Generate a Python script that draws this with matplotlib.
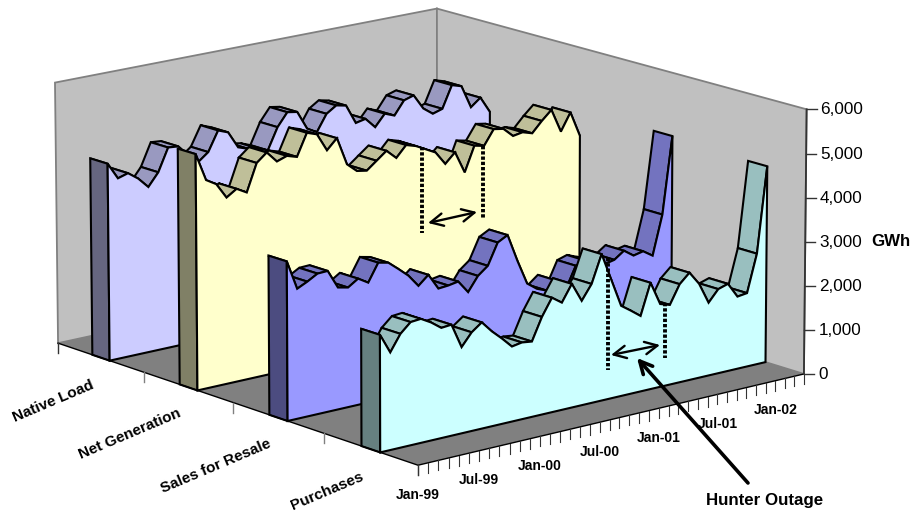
#!/usr/bin/env python3
import numpy as np
import matplotlib
matplotlib.use("Agg")
import matplotlib.pyplot as plt

plt.rcParams["font.family"] = ["Liberation Sans", "DejaVu Sans"]

SERIES = ["Native Load", "Net Generation", "Sales for Resale", "Purchases"]
native_load = [4510, 4130, 4200, 4030, 3790, 4080, 4600, 4580, 4330, 4130, 4310, 4760, 4670, 4280, 4200, 4160, 4070, 4560, 4860, 4820, 4390, 4260, 4640, 4790, 4740, 4290, 4340, 4100, 4370, 4280, 4590, 4660, 4310, 4140, 4210, 4720, 4650, 4110, 4290, 3910]
net_generation = [5340, 4710, 4570, 4220, 4370, 4240, 4860, 5050, 4800, 4880, 4810, 5310, 5230, 4820, 5050, 4410, 4210, 4170, 4350, 4530, 4320, 4570, 4500, 4380, 4260, 3950, 4170, 3660, 4230, 4180, 4520, 4480, 4270, 4310, 4240, 4480, 4690, 4140, 4540, 3950]
sales_for_resale = [3570, 2910, 3020, 3150, 3160, 2740, 2690, 2840, 2700, 3100, 3050, 2860, 2660, 2380, 2580, 2220, 2240, 2280, 1990, 2310, 2490, 2970, 3090, 2460, 1890, 1720, 1630, 1810, 1570, 2050, 2120, 2030, 1940, 1990, 2150, 1990, 2040, 1890, 2790, 4550]
purchases = [2600, 2160, 2520, 2730, 2750, 2620, 2450, 2470, 1920, 2200, 2370, 2120, 1910, 1680, 1720, 1690, 2190, 2570, 2410, 2780, 2350, 2680, 3300, 2670, 2040, 1880, 1710, 2410, 1880, 1810, 2230, 2440, 2140, 1660, 1920, 1990, 1650, 1680, 2530, 4470]
VALUE_TICKS = [0, 1000, 2000, 3000, 4000, 5000, 6000]
DATE_LABELS = ["Jan-99", "Jul-99", "Jan-00", "Jul-00", "Jan-01", "Jul-01", "Jan-02"]

N = len(purchases) - 1
VMAX = 6000
LW = 1.5

# face, top and side shade of each slab
COLORS = [("#CCCCFF", "#9999C0", "#666680"),
          ("#FFFFCC", "#BFBF99", "#808066"),
          ("#9999FF", "#7373BF", "#4C4C80"),
          ("#CCFFFF", "#99BFBF", "#668080")]

# series names are placed by hand, excel spaced them unevenly
NAME_POS = [(53, 401), (130, 434), (216, 466), (327, 491)]

# view: picture position of the cube corners (t, s, v), fitted to one projection
corners = [((0, 0, 0), (418, 466)), ((1, 0, 0), (804, 373)), ((0, 1, 0), (58, 342)),
           ((1, 1, 0), (437, 262)), ((1, 0, 1), (806.5, 109.5)), ((0, 1, 1), (55, 83)),
           ((1, 1, 1), (437, 8))]
rows = []
for (t, s, v), (x, y) in corners:
    p = [t, s, v, 1]
    rows.append(p + [0, 0, 0, 0] + [-x * c for c in p])
    rows.append([0, 0, 0, 0] + p + [-y * c for c in p])
M = np.linalg.svd(np.array(rows, float))[2][-1].reshape(3, 4)


def proj(t, s, v):
    h = M @ np.array([t, s, v / VMAX, 1.0])
    return h[0] / h[2], h[1] / h[2]


fig = plt.figure(figsize=(9.13, 5.11))
ax = fig.add_axes([0, 0, 1, 1])
ax.set_xlim(0, 913)
ax.set_ylim(511, 0)
ax.axis("off")

# walls and floor
ax.fill(*zip(proj(0, 1, 0), proj(0, 1, VMAX), proj(1, 1, VMAX), proj(1, 1, 0)),
        fc="#C0C0C0", ec="#808080", lw=1.3)
ax.fill(*zip(proj(1, 1, 0), proj(1, 1, VMAX), proj(1, 0, VMAX), proj(1, 0, 0)),
        fc="#C0C0C0", ec="#808080", lw=1.3)
ax.fill(*zip(proj(0, 0, 0), proj(0, 1, 0), proj(1, 1, 0), proj(1, 0, 0)), fc="#808080", ec="none")
ax.plot(*zip(proj(0, 1, 0), proj(0, 0, 0), proj(1, 0, 0)), color="k", lw=1.0)
ax.plot(*zip(proj(1, 0, 0), proj(1, 0, VMAX)), color="#333333", lw=1.3)

# value axis
for v in VALUE_TICKS:
    x, y = proj(1, 0, v)
    ax.plot([x, x + 10], [y, y], color="#333333", lw=1.0)
    ax.text(x + 14, y + 0.5, f"{v:,}", fontsize=12.3, ha="left", va="center")
ax.text(871, 242, "GWh", fontsize=12.2, fontweight="bold", ha="left", va="center")

# date axis: one tick per month, label every six
for i in range(N + 1):
    x, y = proj(i / N, 0, 0)
    ax.plot([x, x], [y, y + 10], color="#333333", lw=0.8)
for j, lab in enumerate(DATE_LABELS):
    x, y = proj(6 * j / N, 0, 0)
    ax.text(x, y + 29.5, lab, fontsize=10, fontweight="bold", ha="center", va="center")

# series axis
for k in range(5):
    x, y = proj(0, k / 4, 0)
    edge = k in (0, 4)
    ax.plot([x, x], [y, y + 10], color="#333333" if edge else "#808080", lw=1.0)
for name, (x, y) in zip(SERIES, NAME_POS):
    ax.text(x, y, name, fontsize=11, fontweight="bold", rotation=23,
            rotation_mode="anchor", ha="center", va="center")

# slabs, back to front; facets from far (late) to near (early)
for k, vals in enumerate([native_load, net_generation, sales_for_resale, purchases]):
    face, top, side = COLORS[k]
    sf = (3 - k) / 4 + 0.1
    sb = sf + 0.05
    F = [proj(i / N, sf, v) for i, v in enumerate(vals)]
    B = [proj(i / N, sb, v) for i, v in enumerate(vals)]
    for i in range(N - 1, -1, -1):
        ax.fill(*zip(F[i], F[i + 1], B[i + 1], B[i]), fc=top, ec="k", lw=LW)
    ax.fill(*zip(proj(0, sf, 0), F[0], B[0], proj(0, sb, 0)), fc=side, ec="k", lw=LW)
    ax.fill(*zip(proj(0, sf, 0), *F, proj(1, sf, 0)), fc=face, ec="k", lw=LW)

# Hunter outage markers
for x, y0, y1 in [(422, 147, 233), (483, 146, 219), (608, 258, 370), (665, 303, 358)]:
    ax.plot([x, x], [y0, y1], color="k", lw=2.8, linestyle=(0, (0.85, 0.5)))
arrow = dict(arrowstyle="<->,head_length=0.9,head_width=0.45", color="k", lw=1.7, shrinkA=0, shrinkB=0)
ax.annotate("", xy=(428, 223), xytext=(477, 212), arrowprops=arrow)
ax.annotate("", xy=(611, 355), xytext=(660, 345), arrowprops=arrow)
ax.annotate("", xy=(637, 358), xytext=(748, 483),
            arrowprops=dict(arrowstyle="->,head_length=0.9,head_width=0.45", color="k", lw=2.6,
                            shrinkA=0, shrinkB=0))
ax.text(765, 500.5, "Hunter Outage", fontsize=12.2, fontweight="bold", ha="center", va="center")

fig.savefig("out.png", dpi=100)
